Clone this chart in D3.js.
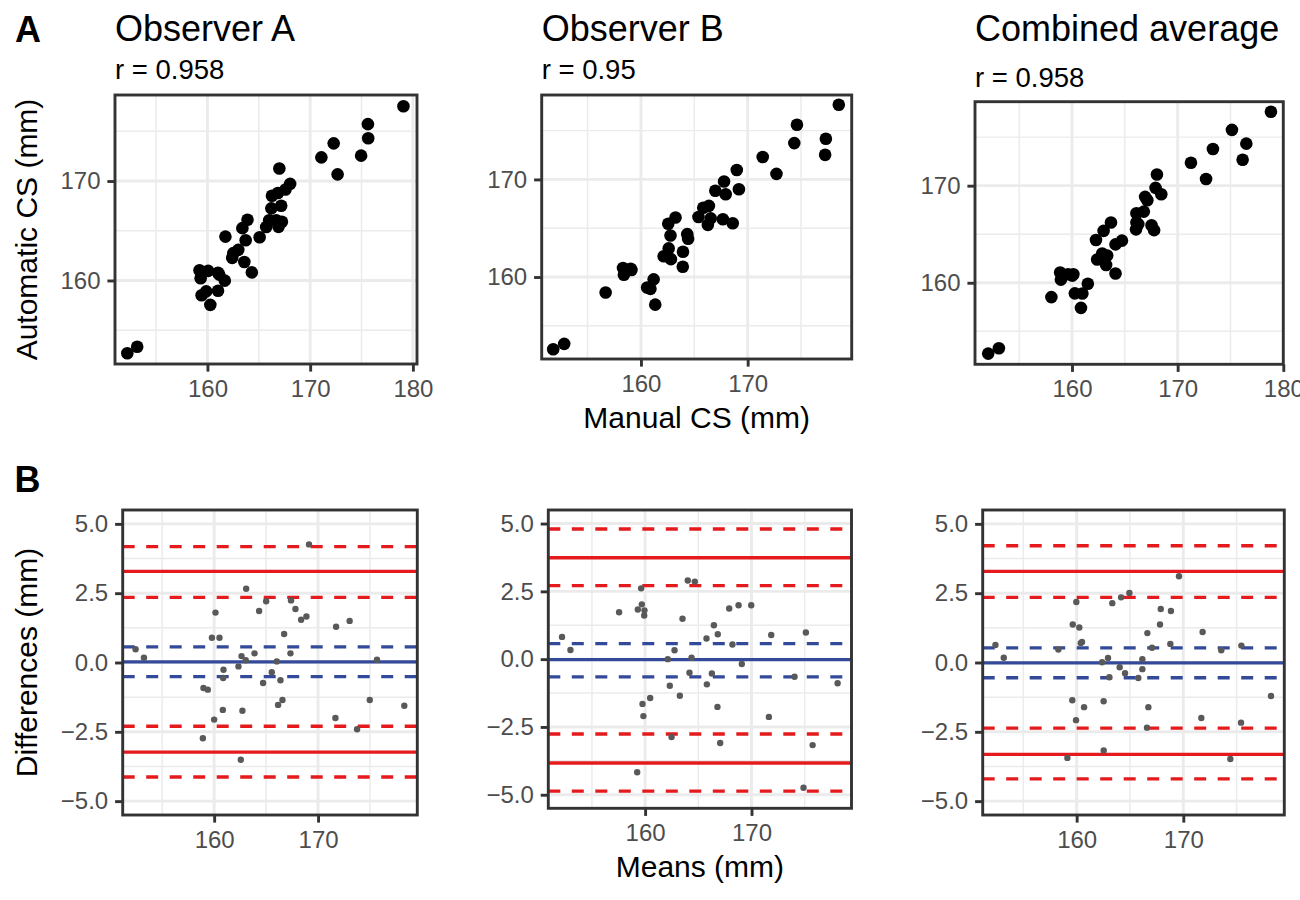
<!DOCTYPE html>
<html>
<head>
<meta charset="utf-8">
<script src="https://cdn.jsdelivr.net/npm/d3@7"></script>
<style>
  body { margin: 0; background: #fff; }
  text { font-family: "Liberation Sans", Arial, sans-serif; }
</style>
</head>
<body>
<svg id="chart" width="1300" height="900"></svg>
<script>
// manual vs automatic CS per subject (mm)
const manualA = [167.00, 161.75, 163.90, 163.40, 159.23, 166.28, 166.86, 167.60, 168.05, 171.09, 172.29, 159.34, 160.07, 166.22, 152.20, 153.16, 163.72, 162.52, 163.00, 167.18, 166.01, 175.62, 161.03, 162.41, 165.72, 161.15, 165.08, 166.70, 159.43, 159.88, 167.25, 166.92, 175.65, 179.08, 161.69, 163.59, 161.03, 172.67, 174.96, 160.28, 164.32];
const autoA = [171.26, 164.41, 166.11, 165.26, 161.03, 168.52, 168.79, 169.14, 169.71, 172.38, 173.79, 160.23, 160.96, 167.25, 152.68, 153.33, 164.05, 162.75, 163.08, 167.51, 166.05, 175.72, 160.77, 162.27, 165.37, 160.59, 164.34, 166.06, 158.51, 158.90, 165.90, 165.39, 174.30, 177.52, 159.98, 161.85, 158.97, 170.67, 172.55, 157.55, 160.81];

const manualB = [162.56, 163.24, 158.32, 158.68, 158.40, 159.04, 159.11, 156.69, 162.77, 166.97, 167.79, 168.98, 165.84, 166.37, 165.39, 167.94, 171.41, 174.62, 151.78, 152.81, 162.60, 162.13, 164.34, 169.18, 164.42, 166.54, 174.37, 162.81, 166.27, 178.54, 161.19, 163.94, 160.58, 167.68, 160.89, 172.70, 163.92, 168.60, 177.33, 161.34, 177.26];
const autoB = [165.46, 166.10, 160.93, 160.70, 160.23, 160.84, 160.72, 158.42, 164.26, 168.84, 169.78, 170.97, 167.09, 167.29, 166.15, 168.48, 172.30, 175.60, 152.60, 153.15, 162.93, 162.13, 164.39, 169.00, 163.92, 166.01, 173.72, 161.83, 165.34, 177.65, 159.76, 162.59, 158.93, 165.92, 158.79, 170.57, 161.05, 165.51, 174.16, 157.17, 172.52];

const manualC = [168.04, 163.69, 162.99, 162.27, 158.88, 166.92, 167.91, 158.95, 159.62, 167.13, 166.10, 171.26, 160.13, 160.03, 168.45, 152.07, 158.05, 166.80, 173.34, 175.14, 153.08, 162.86, 162.38, 166.10, 164.12, 166.28, 164.73, 163.33, 166.06, 178.83, 160.27, 163.23, 161.50, 167.53, 160.98, 172.69, 176.50, 167.77, 164.12, 160.85, 176.15];
const autoC = [171.15, 166.20, 165.34, 164.41, 161.06, 168.85, 169.77, 160.32, 160.88, 168.50, 167.16, 172.36, 160.87, 160.73, 169.12, 152.70, 158.52, 167.33, 173.78, 175.75, 153.25, 163.02, 162.39, 166.22, 163.95, 166.04, 164.34, 162.80, 165.50, 177.62, 158.91, 161.83, 159.89, 165.92, 158.90, 170.69, 174.33, 165.42, 160.95, 157.41, 172.67];

// Bland-Altman lines: [lower CI, estimate, upper CI]
const biasA = [-0.51, 0.02, 0.56];
const upperA = [2.35, 3.29, 4.18];
const lowerA = [-4.13, -3.23, -2.30];
const biasB = [-0.65, -0.02, 0.57];
const upperB = [2.71, 3.74, 4.80];
const lowerB = [-4.87, -3.83, -2.76];
const biasC = [-0.55, -0.01, 0.53];
const upperC = [2.35, 3.29, 4.21];
const lowerC = [-4.20, -3.31, -2.37];

const panelTitles = ["Observer A", "Observer B", "Combined average"];
const corrLabels = ["r = 0.958", "r = 0.95", "r = 0.958"];
const csTicks = [150, 160, 170, 180];
const csMinor = [155, 165, 175];
const diffTicks = [-5, -2.5, 0, 2.5, 5];
const diffMinor = [-3.75, -1.25, 1.25, 3.75];

const RED = "#E41A1C", BLUE = "#33499A";

const svg = d3.select("#chart");

// panel boxes (layout only)
const scatterBoxes = [
  {x0: 115, x1: 417, y0: 95, y1: 364, xDom: [151.0, 180.4]},
  {x0: 541.7, x1: 851.7, y0: 95, y1: 359, xDom: [150.7, 179.75]},
  {x0: 975, x1: 1283.3, y0: 101.7, y1: 364.3, xDom: [150.82, 180.0]}
];
const autoDomain = [151.6, 178.65];
const baBoxes = [
  {x0: 122.7, x1: 417.3, y0: 510, y1: 815, xDom: [151.2, 179.55]},
  {x0: 548.3, x1: 851.5, y0: 510, y1: 808.3, xDom: [150.9, 179.4]},
  {x0: 982.7, x1: 1284.3, y0: 510, y1: 815, xDom: [151.19, 179.47]}
];
const diffDomain = [-5.5, 5.5];

const sets = [
  {manual: manualA, auto: autoA, bias: biasA, upper: upperA, lower: lowerA},
  {manual: manualB, auto: autoB, bias: biasB, upper: upperB, lower: lowerB},
  {manual: manualC, auto: autoC, bias: biasC, upper: upperC, lower: lowerC}
];

function inside(dom) {
  return function(v) { return v >= dom[0] && v <= dom[1]; };
}

function frame(box, x, y, xMajor, xMinor, yMajor, yMinor) {
  let g = svg.append("g");
  g.append("rect")
    .attr("x", box.x0).attr("y", box.y0)
    .attr("width", box.x1 - box.x0).attr("height", box.y1 - box.y0)
    .attr("fill", "#fff");

  let grid = g.append("g").attr("stroke", "#ebebeb");
  grid.selectAll(".vminor").data(xMinor.filter(inside(x.domain()))).enter().append("line")
    .attr("x1", d => x(d)).attr("x2", d => x(d)).attr("y1", box.y0).attr("y2", box.y1)
    .attr("stroke-width", 1.45);
  grid.selectAll(".hminor").data(yMinor.filter(inside(y.domain()))).enter().append("line")
    .attr("y1", d => y(d)).attr("y2", d => y(d)).attr("x1", box.x0).attr("x2", box.x1)
    .attr("stroke-width", 1.45);
  grid.selectAll(".vmajor").data(xMajor.filter(inside(x.domain()))).enter().append("line")
    .attr("x1", d => x(d)).attr("x2", d => x(d)).attr("y1", box.y0).attr("y2", box.y1)
    .attr("stroke-width", 2.9);
  grid.selectAll(".hmajor").data(yMajor.filter(inside(y.domain()))).enter().append("line")
    .attr("y1", d => y(d)).attr("y2", d => y(d)).attr("x1", box.x0).attr("x2", box.x1)
    .attr("stroke-width", 2.9);
  return g;
}

function axes(box, x, y, xMajor, yMajor, yFmt) {
  let xa = svg.append("g")
    .attr("transform", "translate(0," + box.y1 + ")")
    .call(d3.axisBottom(x).tickValues(xMajor.filter(inside(x.domain())))
      .tickSize(7.6).tickPadding(8.4).tickFormat(d3.format("d")));
  let ya = svg.append("g")
    .attr("transform", "translate(" + box.x0 + ",0)")
    .call(d3.axisLeft(y).tickValues(yMajor.filter(inside(y.domain())))
      .tickSize(7.6).tickPadding(6.9).tickFormat(yFmt));
  [xa, ya].forEach(function(a) {
    a.select(".domain").remove();
    a.attr("font-size", 24).attr("font-family", null);
    a.selectAll(".tick line").attr("stroke", "#333").attr("stroke-width", 2.9);
    a.selectAll(".tick text").attr("fill", "#4d4d4d");
  });
}

function border(box) {
  svg.append("rect")
    .attr("x", box.x0).attr("y", box.y0)
    .attr("width", box.x1 - box.x0).attr("height", box.y1 - box.y0)
    .attr("fill", "none").attr("stroke", "#333").attr("stroke-width", 2.9);
}

// row A: scatter plots
sets.forEach(function(s, i) {
  let box = scatterBoxes[i];
  let x = d3.scaleLinear().domain(box.xDom).range([box.x0, box.x1]);
  let y = d3.scaleLinear().domain(autoDomain).range([box.y1, box.y0]);
  let g = frame(box, x, y, csTicks, csMinor, csTicks, csMinor);

  g.selectAll("circle").data(d3.range(s.manual.length)).enter().append("circle")
    .attr("cx", k => x(s.manual[k]))
    .attr("cy", k => y(s.auto[k]))
    .attr("r", 6.3)
    .attr("fill", "#000");

  border(box);
  axes(box, x, y, csTicks, csTicks, d3.format("d"));

  svg.append("text").attr("x", box.x0).attr("y", 41)
    .attr("font-size", 36).text(panelTitles[i]);
  svg.append("text").attr("x", box.x0).attr("y", i == 2 ? 87 : 79)
    .attr("font-size", 27.5).text(corrLabels[i]);
});

// row B: Bland-Altman plots
sets.forEach(function(s, i) {
  let box = baBoxes[i];
  let x = d3.scaleLinear().domain(box.xDom).range([box.x0, box.x1]);
  let y = d3.scaleLinear().domain(diffDomain).range([box.y1, box.y0]);
  let g = frame(box, x, y, csTicks, csMinor, diffTicks, diffMinor);

  let lines = [
    {v: s.upper[0], c: RED, dash: true}, {v: s.upper[1], c: RED, dash: false}, {v: s.upper[2], c: RED, dash: true},
    {v: s.lower[0], c: RED, dash: true}, {v: s.lower[1], c: RED, dash: false}, {v: s.lower[2], c: RED, dash: true},
    {v: s.bias[0], c: BLUE, dash: true}, {v: s.bias[1], c: BLUE, dash: false}, {v: s.bias[2], c: BLUE, dash: true}
  ];
  g.selectAll(".ba").data(lines).enter().append("line")
    .attr("x1", box.x0).attr("x2", box.x1)
    .attr("y1", d => y(d.v)).attr("y2", d => y(d.v))
    .attr("stroke", d => d.c)
    .attr("stroke-width", 3.3)
    .attr("stroke-dasharray", d => d.dash ? "12,11.5" : null);

  g.selectAll("circle").data(d3.range(s.manual.length)).enter().append("circle")
    .attr("cx", k => x((s.manual[k] + s.auto[k]) / 2))
    .attr("cy", k => y(s.auto[k] - s.manual[k]))
    .attr("r", 3.2)
    .attr("fill", "#595959");

  border(box);
  axes(box, x, y, csTicks, diffTicks, d3.format(".1f"));
});

// tags and axis titles
svg.append("text").attr("x", 15).attr("y", 42).attr("font-size", 36).attr("font-weight", "bold").text("A");
svg.append("text").attr("x", 14.5).attr("y", 492).attr("font-size", 36).attr("font-weight", "bold").text("B");

svg.append("text").attr("transform", "translate(37,229.5) rotate(-90)")
  .attr("text-anchor", "middle").attr("font-size", 30).text("Automatic CS (mm)");
svg.append("text").attr("transform", "translate(37,662.5) rotate(-90)")
  .attr("text-anchor", "middle").attr("font-size", 30).text("Differences (mm)");
svg.append("text").attr("x", (scatterBoxes[1].x0 + scatterBoxes[1].x1) / 2).attr("y", 427.5)
  .attr("text-anchor", "middle").attr("font-size", 30).text("Manual CS (mm)");
svg.append("text").attr("x", (baBoxes[1].x0 + baBoxes[1].x1) / 2).attr("y", 877)
  .attr("text-anchor", "middle").attr("font-size", 30).text("Means (mm)");
</script>
</body>
</html>
